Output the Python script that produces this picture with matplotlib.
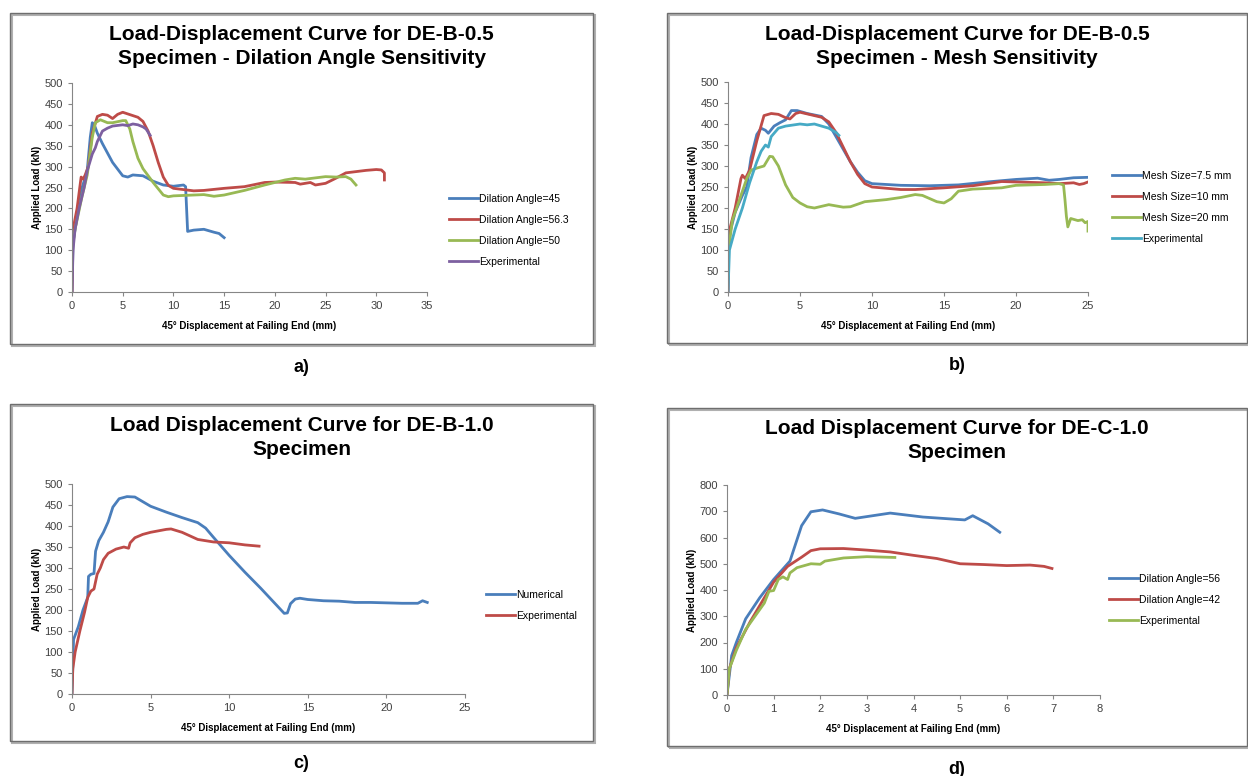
import matplotlib.pyplot as plt
from matplotlib.patches import Rectangle

plt.rcParams['font.family'] = ['Liberation Sans', 'DejaVu Sans']

# colores tipo Excel
AZUL = '#4A7EBB'
ROJO = '#BE4B48'
VERDE = '#98B954'
MORADO = '#7D60A0'
CIAN = '#46AAC5'

# ---------------- datos panel a) ----------------
a_da45_x = [0, 0.1, 0.5, 1, 1.5, 1.8, 2.0, 2.2, 2.5, 3, 4, 5, 5.5, 6, 7, 8, 9, 10, 11, 11.2, 11.4, 12, 13, 14, 14.5, 15]
a_da45_y = [0, 120, 180, 250, 290, 370, 405, 400, 380, 355, 310, 278, 275, 280, 278, 265, 256, 253, 256, 252, 145, 148, 150, 143, 140, 130]
a_da563_x = [0, 0.1, 0.5, 0.9, 1.1, 1.3, 1.6, 2.0, 2.5, 3, 3.5, 4, 4.5, 5, 6, 6.5, 7, 7.5, 8, 8.5, 9, 9.5, 10, 11, 12, 13, 15, 17,
             19, 20, 22, 22.5, 23.5, 24, 25, 26, 27, 28, 29, 30, 30.5, 30.8, 30.8]
a_da563_y = [0, 150, 200, 275, 270, 280, 300, 380, 420, 425, 423, 415, 425, 430, 422, 418, 408, 385, 350, 310, 275, 255, 248, 245, 242, 243, 248, 252,
             262, 263, 262, 258, 262, 256, 260, 272, 285, 288, 291, 293, 292, 285, 268]
a_da50_x = [0, 0.3, 1, 1.5, 2, 2.3, 2.8, 3.5, 4, 5, 5.3, 5.7, 6, 6.5, 7, 8, 9, 9.5, 10, 12, 13, 14, 15, 17, 19, 21, 22, 23, 25, 26, 27, 27.5, 28]
a_da50_y = [100, 150, 230, 280, 370, 405, 412, 405, 405, 410, 410, 390, 360, 320, 295, 262, 232, 228, 230, 232, 233, 229, 232, 243, 256, 268, 272, 270, 276, 275, 276, 270, 256]
a_exp_x = [0, 0.1, 0.3, 0.7, 1.2, 1.5, 2, 2.3, 2.5, 3, 3.5, 4, 5, 5.5, 6, 6.5, 7, 7.3, 7.7]
a_exp_y = [0, 100, 150, 200, 250, 290, 330, 345, 360, 385, 392, 397, 400, 398, 402, 400, 395, 390, 375]

# ---------------- datos panel b) ----------------
b_m75_x = [0, 0.05, 0.5, 1, 1.3, 1.6, 2, 2.3, 2.6, 2.8, 3.2, 3.6, 4, 4.4, 4.8, 5.5, 6.5, 7, 7.5, 8, 8.5, 9, 9.5, 10, 11, 12, 14, 16,
           18, 20, 21.5, 22.3, 23, 24, 25]
b_m75_y = [0, 130, 190, 230, 250, 320, 375, 390, 385, 378, 395, 403, 410, 432, 432, 425, 418, 400, 370, 340, 310, 285, 265, 258, 256, 254, 253, 255,
           262, 268, 271, 266, 268, 272, 273]
b_m10_x = [0, 0.05, 0.5, 0.9, 1.0, 1.2, 1.5, 2, 2.5, 3, 3.5, 4, 4.3, 4.7, 5, 6, 6.5, 7, 7.5, 8, 8.5, 9, 9.5, 10, 11, 12, 13, 15, 17,
           19, 20, 22, 23, 24, 24.4, 24.7, 25]
b_m10_y = [0, 140, 200, 270, 278, 270, 290, 360, 420, 425, 423, 415, 412, 425, 428, 420, 416, 405, 380, 345, 310, 280, 258, 250, 247, 244, 244, 248, 253,
           263, 262, 260, 258, 260, 256, 258, 262]
b_m20_x = [0, 0.3, 0.8, 1.3, 1.6, 2, 2.5, 2.9, 3.1, 3.5, 4, 4.5, 5, 5.5, 6, 7, 8, 8.5, 9.5, 11, 12, 13, 13.5, 14.5, 15, 15.5, 16, 17,
           19, 20, 22, 23, 23.3, 23.4, 23.5, 23.6, 23.8, 24.3, 24.6, 24.8, 25, 25]
b_m20_y = [90, 170, 220, 270, 290, 295, 300, 323, 322, 300, 255, 225, 212, 203, 200, 208, 202, 203, 215, 220, 225, 232, 230, 215, 212, 222, 240, 245,
           248, 254, 256, 258, 255, 220, 180, 155, 175, 170, 172, 165, 168, 145]
b_exp_x = [0, 0.1, 0.5, 1, 1.5, 2, 2.3, 2.6, 2.8, 3, 3.5, 4, 5, 5.5, 6, 6.5, 7, 7.5, 7.7]
b_exp_y = [0, 100, 150, 200, 260, 310, 335, 350, 345, 370, 390, 395, 400, 398, 400, 395, 390, 380, 373]

# ---------------- datos panel c) ----------------
c_num_x = [0, 0.1, 0.4, 0.7, 1.0, 1.05, 1.2, 1.4, 1.5, 1.7, 2, 2.3, 2.6, 3, 3.5, 4, 4.5, 5, 6, 7, 8, 8.5, 9, 10, 11, 12, 13, 13.5,
           13.7, 13.9, 14.2, 14.5, 15, 16, 17, 18, 19, 20, 21, 22, 22.3, 22.6]
c_num_y = [0, 130, 160, 200, 230, 280, 285, 287, 340, 365, 385, 410, 445, 465, 470, 469, 458, 447, 433, 420, 408, 395, 373, 330, 290, 252, 212, 192,
           193, 215, 226, 228, 225, 222, 221, 218, 218, 217, 216, 216, 222, 218]
c_exp_x = [0, 0.05, 0.2, 0.5, 0.8, 1.0, 1.2, 1.4, 1.6, 1.8, 2, 2.3, 2.8, 3.3, 3.6, 3.7, 4, 4.5, 5, 6, 6.3, 7, 8, 9, 10, 11, 11.9]
c_exp_y = [0, 60, 100, 150, 195, 230, 245, 250, 285, 300, 320, 335, 345, 350, 347, 360, 372, 380, 385, 392, 393, 385, 368, 362, 360, 355, 352]

# ---------------- datos panel d) ----------------
d_da56_x = [0, 0.1, 0.2, 0.4, 0.7, 1, 1.35, 1.6, 1.8, 2.05, 2.4, 2.75, 3.5, 4.2, 5.1, 5.27, 5.6, 5.85]
d_da56_y = [0, 150, 200, 290, 370, 440, 510, 645, 698, 705, 690, 673, 693, 678, 667, 683, 652, 620]
d_da42_x = [0, 0.05, 0.2, 0.5, 0.8, 1, 1.3, 1.6, 1.8, 2, 2.5, 3, 3.5, 4, 4.5, 5, 5.5, 6, 6.5, 6.8, 6.97]
d_da42_y = [0, 100, 180, 280, 370, 430, 490, 525, 550, 557, 558, 552, 545, 532, 520, 500, 497, 493, 495, 490, 482]
d_exp_x = [0, 0.05, 0.2, 0.4, 0.6, 0.8, 0.9, 1.0, 1.1, 1.2, 1.3, 1.35, 1.5, 1.8, 2.0, 2.1, 2.5, 3, 3.6]
d_exp_y = [0, 100, 170, 250, 300, 350, 395, 398, 440, 450, 440, 465, 485, 500, 498, 510, 522, 527, 524]

W, H = 1248, 776
fig = plt.figure(figsize=(W / 100, H / 100), dpi=100)


def px(x0, y0, x1, y1):
    """rectangulo en pixeles (origen arriba-izquierda) a coordenadas de figura"""
    return [x0 / W, 1 - y1 / H, (x1 - x0) / W, (y1 - y0) / H]


def panel(caja, ejes, titulo, xlim, xticks, ylim, yticks, series, leyenda, letra):
    # marco del grafico
    cx0, cy0, cx1, cy1 = caja
    fig.patches.append(Rectangle((cx0 / W + 0.002, 1 - cy1 / H - 0.003), (cx1 - cx0) / W, (cy1 - cy0) / H,
                                 transform=fig.transFigure, fill=False, ec='#b0b0b0', lw=1.5))
    fig.patches.append(Rectangle((cx0 / W, 1 - cy1 / H), (cx1 - cx0) / W, (cy1 - cy0) / H,
                                 transform=fig.transFigure, fill=False, ec='#6e6e6e', lw=1))
    xc = (cx0 + cx1) / 2
    fig.text(xc / W, 1 - (cy0 + 21) / H, titulo[0], ha='center', va='center', fontsize=15, fontweight='bold')
    fig.text(xc / W, 1 - (cy0 + 45) / H, titulo[1], ha='center', va='center', fontsize=15, fontweight='bold')
    fig.text(xc / W, 1 - (cy1 + 23) / H, letra, ha='center', va='center', fontsize=13, fontweight='bold')

    ax = fig.add_axes(px(*ejes))
    for x, y, c, lab in series:
        ax.plot(x, y, color=c, lw=2, label=lab)
    ax.set_xlim(*xlim)
    ax.set_ylim(*ylim)
    ax.set_xticks(xticks)
    ax.set_yticks(yticks)
    for s in ['top', 'right']:
        ax.spines[s].set_visible(False)
    for s in ['left', 'bottom']:
        ax.spines[s].set_color('#868686')
        ax.spines[s].set_linewidth(0.8)
    ax.tick_params(colors='#868686', labelcolor='#404040', labelsize=8, length=3, width=0.8)
    ax.set_xlabel('45° Displacement at Failing End (mm)', fontsize=7, fontweight='bold', labelpad=7)
    ax.set_ylabel('Applied Load (kN)', fontsize=7, fontweight='bold', labelpad=2)
    lx, ly = leyenda
    ax.legend(loc='upper left', bbox_to_anchor=(lx / W, 1 - ly / H), bbox_transform=fig.transFigure,
              frameon=False, fontsize=7.5, handlelength=2.8, handletextpad=0.1, labelspacing=1.05,
              borderaxespad=0, borderpad=0)
    return ax


panel((10, 13, 593, 344), (72, 83, 427, 292),
      ('Load-Displacement Curve for DE-B-0.5', 'Specimen - Dilation Angle Sensitivity'),
      (0, 35), range(0, 36, 5), (0, 500), range(0, 501, 50),
      [(a_da45_x, a_da45_y, AZUL, 'Dilation Angle=45'),
       (a_da563_x, a_da563_y, ROJO, 'Dilation Angle=56.3'),
       (a_da50_x, a_da50_y, VERDE, 'Dilation Angle=50'),
       (a_exp_x, a_exp_y, MORADO, 'Experimental')],
      (449, 194), 'a)')

panel((667, 13, 1247, 343), (728, 82, 1088, 292),
      ('Load-Displacement Curve for DE-B-0.5', 'Specimen - Mesh Sensitivity'),
      (0, 25), range(0, 26, 5), (0, 500), range(0, 501, 50),
      [(b_m75_x, b_m75_y, AZUL, 'Mesh Size=7.5 mm'),
       (b_m10_x, b_m10_y, ROJO, 'Mesh Size=10 mm'),
       (b_m20_x, b_m20_y, VERDE, 'Mesh Size=20 mm'),
       (b_exp_x, b_exp_y, CIAN, 'Experimental')],
      (1112, 171), 'b)')

panel((10, 404, 593, 741), (72, 484, 465, 694),
      ('Load Displacement Curve for DE-B-1.0', 'Specimen'),
      (0, 25), range(0, 26, 5), (0, 500), range(0, 501, 50),
      [(c_num_x, c_num_y, AZUL, 'Numerical'),
       (c_exp_x, c_exp_y, ROJO, 'Experimental')],
      (486, 590), 'c)')

panel((667, 408, 1247, 746), (727, 485, 1100, 695),
      ('Load Displacement Curve for DE-C-1.0', 'Specimen'),
      (0, 8), range(0, 9), (0, 800), range(0, 801, 100),
      [(d_da56_x, d_da56_y, AZUL, 'Dilation Angle=56'),
       (d_da42_x, d_da42_y, ROJO, 'Dilation Angle=42'),
       (d_exp_x, d_exp_y, VERDE, 'Experimental')],
      (1109, 574), 'd)')

fig.savefig('out.png', dpi=100)
